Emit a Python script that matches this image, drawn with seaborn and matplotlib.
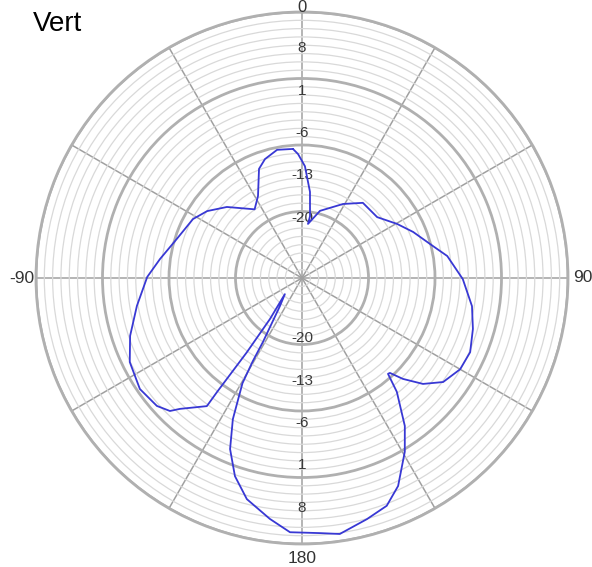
import numpy as np
import pandas as pd
import matplotlib
matplotlib.use("Agg")
import matplotlib.pyplot as plt
import seaborn as sns

# ---- data (angle in degrees, clockwise from top; gain in dB) ----
angle_deg = [-4.0, -1.8, 1.5, 5.3, 7.4, 6.3, 15.0, 29.0, 39.0, 51.0,
             60.4, 67.5, 76.3, 81.4, 90.4, 99.4, 106.6, 113.8, 120.0, 126.4,
             131.2, 135.0, 137.2, 138.1, 140.2, 145.2, 149.4, 155.2, 159.6, 164.9,
             171.6, 176.0, 182.7, 187.6, 194.0, 198.7, 202.8, 206.1, 209.5, 210.6,
             211.4, 218.2, 226.7, 218.0, 216.6, 216.7, 216.6, 223.0, 224.8, 228.6,
             235.6, 244.0, 251.4, 260.4, 270.4, 277.6, 287.3, 298.4, 305.2, 313.4,
             325.4, 331.8, 338.5, 342.7, 349.0, 356.0]
gain_db = [-8.6, -9.5, -11.5, -15.7, -19.7, -21.0, -18.5, -16.0, -14.0, -14.0,
           -11.9, -10.1, -7.7, -5.7, -3.4, -1.5, -0.5, 0.4, 0.2, -1.0,
           -3.4, -6.4, -8.6, -8.7, -5.5, -0.2, 3.4, 7.9, 10.2, 11.3,
           12.8, 12.3, 12.1, 10.2, 7.7, 4.6, 0.7, -4.0, -10.0, -14.0,
           -17.6, -24.1, -26.1, -21.4, -14.7, -6.5, -3.6, -0.4, 1.0, 2.0,
           2.5, 1.7, 0.0, -2.3, -4.4, -6.3, -8.3, -9.5, -10.8, -12.9,
           -16.2, -14.6, -10.6, -9.4, -8.4, -8.6]

radial_labels = [-20, -13, -6, 1, 8]
major_rings = [-19, -8, 3, 14]
r_min, r_max = -30, 14
minor_step = 1.375
angle_ticks_deg = [0, 30, 60, 90, 120, 150, 180, 210, 240, 270, 300, 330]
angle_tick_labels = ["", "", "", "90", "", "", "180", "", "", "-90", "", ""]
top_label = "0"
title = "Vert"

sns.set_style("white")
plt.rcParams["font.family"] = ["Liberation Sans", "DejaVu Sans"]

W, H = 592, 567
fig = plt.figure(figsize=(W / 100, H / 100), dpi=100)
cx, cy, R = 302, 278, 266
ax = fig.add_axes([(cx - R) / W, (H - cy - R) / H, 2 * R / W, 2 * R / H],
                  projection="polar")
ax.set_theta_zero_location("N")
ax.set_theta_direction(-1)
ax.set_ylim(r_min, r_max)
ax.set_axisbelow(True)

# grid
ax.set_xticks(np.deg2rad(angle_ticks_deg))
ax.set_xticklabels(angle_tick_labels, fontsize=12.5, color="#333333")
ax.tick_params(axis="x", pad=0)
ax.set_yticks(major_rings)
ax.set_yticklabels([])
minor = [v for v in np.arange(r_min + minor_step, r_max, minor_step)
         if min(abs(v - m) for m in major_rings) > 0.3]
ax.set_yticks(minor, minor=True)
ax.tick_params(axis="y", which="both", length=0)
ax.yaxis.grid(True, which="major", color="#b0b0b0", lw=2.0)
ax.yaxis.grid(True, which="minor", color="#d9d9d9", lw=0.9)
ax.xaxis.grid(True, color="#a0a0a0", lw=1.1)
ax.spines["polar"].set_color("#b0b0b0")
ax.spines["polar"].set_linewidth(2.0)

df = pd.DataFrame({"theta": np.deg2rad(angle_deg), "gain": gain_db})
sns.lineplot(data=df, x="theta", y="gain", sort=False, estimator=None,
             ax=ax, color="#3838d4", lw=1.3)
ax.set_xlabel("")
ax.set_ylabel("")

for v in radial_labels:
    for th in (0.0, np.pi):
        ax.text(th, v, str(v), ha="center", va="center", fontsize=11,
                color="#3a3a3a", zorder=1)

# "0" label at the top, kept just inside the figure edge
fig.text(cx / W, 1 - 0.5 / H, top_label, fontsize=12, color="#333333",
         ha="center", va="top")

fig.text(33 / W, 1 - 31 / H, title, fontsize=20, color="black",
         ha="left", va="baseline")

fig.savefig("out.png", dpi=100)
